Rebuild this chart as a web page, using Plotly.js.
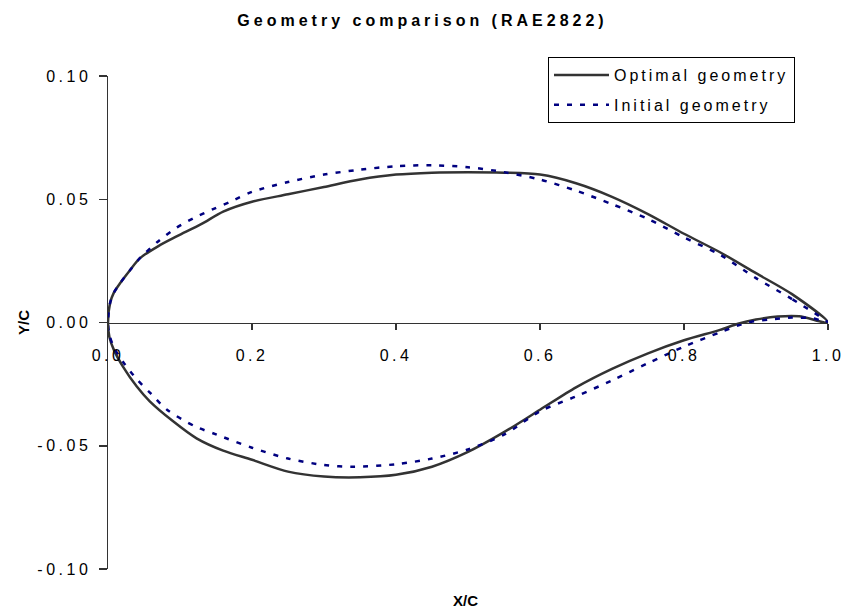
<!DOCTYPE html>
<html>
<head>
<meta charset="utf-8">
<script src="https://cdn.plot.ly/plotly-3.0.1.min.js"></script>
<style>
  html, body { margin: 0; padding: 0; background: #fff; }
  #chart { width: 845px; height: 615px; }
  .xtick text, .ytick text { letter-spacing: 3.5px; }
  .legendtext { letter-spacing: 3px; }
  .gtitle { letter-spacing: 4px; }
</style>
</head>
<body>
<div id="chart"></div>
<script>
  // Optimal geometry
  const optUpperX = [0, 0.003, 0.008, 0.017, 0.03, 0.044, 0.07, 0.096, 0.13, 0.16, 0.20, 0.25, 0.30, 0.35, 0.40, 0.45, 0.50, 0.55, 0.60, 0.65, 0.70, 0.75, 0.80, 0.85, 0.90, 0.95, 1.0];
  const optUpperY = [0, 0.008, 0.012, 0.016, 0.021, 0.026, 0.031, 0.035, 0.040, 0.045, 0.049, 0.052, 0.055, 0.058, 0.060, 0.0608, 0.061, 0.0608, 0.060, 0.0565, 0.051, 0.044, 0.036, 0.0285, 0.020, 0.0115, 0.0];
  const optLowerX = [0, 0.002, 0.008, 0.021, 0.04, 0.058, 0.09, 0.123, 0.16, 0.20, 0.25, 0.30, 0.35, 0.40, 0.45, 0.50, 0.55, 0.60, 0.65, 0.70, 0.75, 0.80, 0.85, 0.875, 0.90, 0.93, 0.96, 1.0];
  const optLowerY = [0, -0.006, -0.011, -0.018, -0.026, -0.032, -0.040, -0.047, -0.052, -0.0557, -0.0605, -0.0625, -0.0628, -0.0618, -0.0585, -0.0525, -0.0445, -0.0354, -0.0263, -0.0188, -0.0125, -0.0072, -0.0030, -0.0005, 0.0012, 0.0024, 0.0025, 0.0];

  // Initial geometry
  const iniUpperX = [0, 0.003, 0.008, 0.017, 0.03, 0.044, 0.07, 0.096, 0.12, 0.146, 0.17, 0.20, 0.25, 0.30, 0.35, 0.40, 0.45, 0.50, 0.55, 0.60, 0.65, 0.70, 0.75, 0.80, 0.85, 0.90, 0.95, 1.0];
  const iniUpperY = [0, 0.008, 0.012, 0.016, 0.021, 0.026, 0.033, 0.0386, 0.0425, 0.046, 0.049, 0.053, 0.057, 0.060, 0.062, 0.0634, 0.0638, 0.063, 0.061, 0.058, 0.0535, 0.048, 0.042, 0.0345, 0.0275, 0.018, 0.0095, 0.0];
  const iniLowerX = [0, 0.002, 0.008, 0.021, 0.04, 0.06, 0.082, 0.12, 0.151, 0.20, 0.25, 0.30, 0.34, 0.40, 0.45, 0.50, 0.55, 0.60, 0.65, 0.70, 0.75, 0.80, 0.85, 0.888, 0.92, 0.95, 0.98, 1.0];
  const iniLowerY = [0, -0.005, -0.010, -0.016, -0.023, -0.029, -0.0354, -0.0420, -0.0455, -0.0508, -0.0552, -0.0578, -0.0585, -0.0575, -0.0552, -0.0515, -0.0455, -0.036, -0.030, -0.0235, -0.0165, -0.0098, -0.0040, 0.0, 0.0012, 0.0020, 0.0016, 0.0];

  const xTickVals = [0, 0.2, 0.4, 0.6, 0.8, 1.0];
  const xTickText = ["0.0", "0.2", "0.4", "0.6", "0.8", "1.0"];
  const yTickVals = [0.10, 0.05, 0, -0.05, -0.10];
  const yTickText = ["0.10", "0.05", "0.00", "-0.05", "-0.10"];

  // trailing edge -> upper surface -> leading edge -> lower surface -> trailing edge
  function loop(ux, uy, lx, ly) {
    return {
      x: [...ux].reverse().concat(lx.slice(1)),
      y: [...uy].reverse().concat(ly.slice(1))
    };
  }

  const opt = loop(optUpperX, optUpperY, optLowerX, optLowerY);
  const ini = loop(iniUpperX, iniUpperY, iniLowerX, iniLowerY);

  const font = "Liberation Sans, Arial, sans-serif";

  const traces = [
    {
      type: "scatter",
      mode: "lines",
      name: "Optimal geometry",
      legendgroup: "opt",
      x: opt.x,
      y: opt.y,
      line: { color: "#333333", width: 2.5, shape: "spline", smoothing: 0.8 }
    },
    {
      type: "scatter",
      mode: "lines",
      name: "Initial geometry",
      legendgroup: "ini",
      x: ini.x,
      y: ini.y,
      line: { color: "#000080", width: 2.5, dash: "5px,8px", shape: "spline", smoothing: 0.8 }
    }
  ];

  const layout = {
    width: 845,
    height: 615,
    margin: { l: 108, r: 17, t: 76, b: 46 },
    paper_bgcolor: "#fff",
    plot_bgcolor: "#fff",
    font: { family: font, color: "#000", size: 16 },
    title: {
      text: "<b>Geometry comparison (RAE2822)</b>",
      font: { family: font, size: 16, color: "#000" },
      x: 0.5,
      xanchor: "center",
      y: 1 - 20 / 615,
      yanchor: "middle"
    },
    xaxis: {
      range: [0, 1],
      anchor: "free",
      position: 0.5,
      showline: true,
      linecolor: "#333",
      linewidth: 1.5,
      ticks: "outside",
      ticklen: 6,
      tickwidth: 1.5,
      tickcolor: "#333",
      tickvals: xTickVals,
      ticktext: xTickText,
      ticklabelstandoff: 12,
      showgrid: false,
      zeroline: false,
      tickfont: { family: font, size: 16, color: "#000" }
    },
    yaxis: {
      range: [-0.1, 0.1],
      showline: true,
      linecolor: "#333",
      linewidth: 1.5,
      ticks: "outside",
      ticklen: 8,
      tickwidth: 1.5,
      tickcolor: "#333",
      tickvals: yTickVals,
      ticktext: yTickText,
      ticklabelstandoff: 4,
      showgrid: false,
      zeroline: false,
      tickfont: { family: font, size: 16, color: "#000" },
      title: { text: "<b>Y/C</b>", font: { family: font, size: 15, color: "#000" }, standoff: 4 }
    },
    legend: {
      x: (548 - 108) / 720,
      y: (569 - 57) / 493,
      xanchor: "left",
      yanchor: "top",
      bgcolor: "#fff",
      bordercolor: "#000",
      borderwidth: 1,
      itemwidth: 55,
      tracegroupgap: 6,
      font: { family: font, size: 16, color: "#000" }
    },
    annotations: [
      {
        text: "<b>X/C</b>",
        xref: "paper",
        yref: "paper",
        x: (465 - 108) / 720,
        y: (569 - 600) / 493,
        xanchor: "center",
        yanchor: "middle",
        showarrow: false,
        font: { family: font, size: 15, color: "#000" }
      }
    ],
    showlegend: true
  };

  Plotly.newPlot("chart", traces, layout, { displayModeBar: false, staticPlot: true });
</script>
</body>
</html>
